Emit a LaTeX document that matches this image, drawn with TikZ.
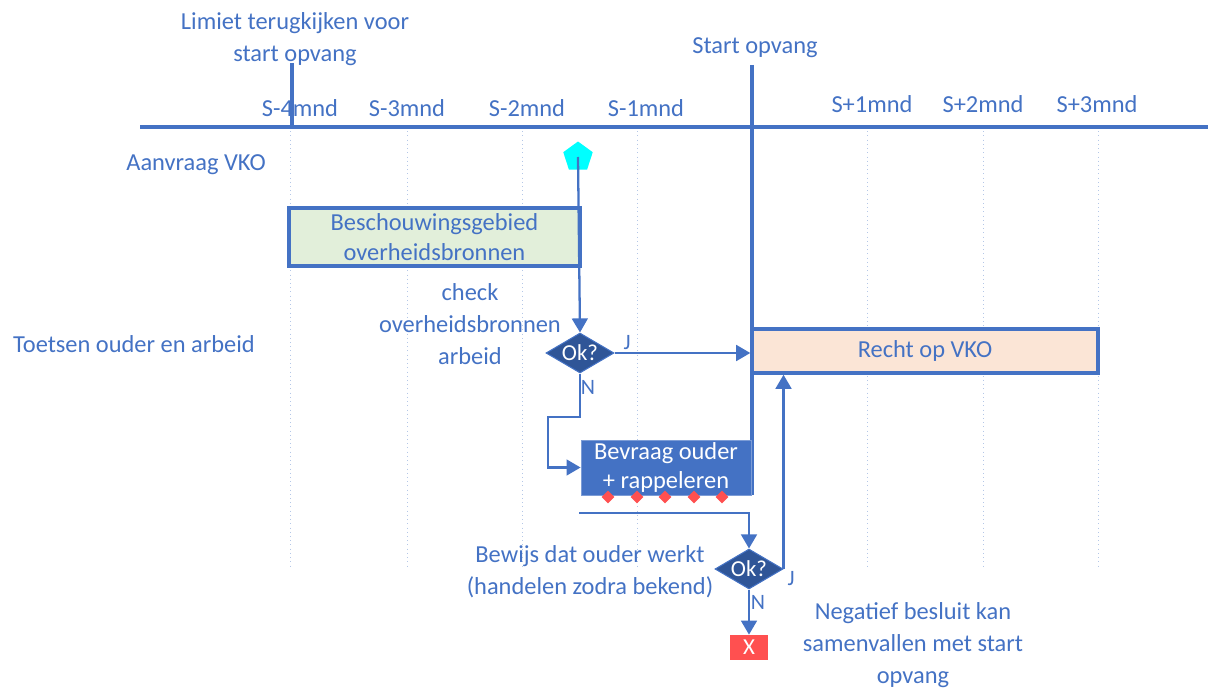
\documentclass[tikz,border=0pt]{standalone}
\usepackage{fontspec}
\setmainfont{Carlito}
\usepackage{xcolor}
\usepackage{tikz}
\usetikzlibrary{shapes.geometric,arrows.meta,positioning}

\definecolor{lineblue}{HTML}{4472C4}
\definecolor{darkblue}{HTML}{2F5597}
\definecolor{greenfill}{HTML}{E2EFDA}
\definecolor{orangefill}{HTML}{FBE5D6}
\definecolor{redx}{HTML}{FF5050}
\definecolor{aqua}{HTML}{00FFFF}

\begin{document}
\begin{tikzpicture}[
        x=0.02cm, y=-0.02cm,
        lbl/.style={text=lineblue, font=\fontsize{13.9}{18.1}\selectfont, align=center, inner sep=0pt},
        yn/.style={text=lineblue, font=\fontsize{12.5}{15}\selectfont, inner sep=0pt},
        phase/.style={rectangle, draw=lineblue, line width=2pt, text=lineblue, font=\fontsize{13.9}{17}\selectfont, align=center, inner sep=0pt},
        okbox/.style={diamond, fill=darkblue, draw=lineblue, line width=0.6pt, minimum width=1.36cm, minimum height=0.8cm, inner sep=0pt},
        oktext/.style={text=white, font=\fontsize{13}{15}\selectfont},
        rdot/.style={diamond, fill=redx, minimum size=0.26cm, inner sep=0pt},
        flow/.style={draw=lineblue, line width=1.3pt, -{Triangle[width=9pt,length=8pt]}},
        ]

        \useasboundingbox (0,0) rectangle (1208,689);

        % Time axis and month grid
        \foreach \gx in {290,407,522,637,867,983,1098}
            \draw[lineblue!40, line width=0.4pt, dotted] (\gx,127) -- (\gx,567);
        \draw[lineblue, line width=2pt] (140,127) -- (1208,127);
        \draw[lineblue, line width=2pt] (292,63) -- (292,127);
        \draw[lineblue, line width=2pt] (752,65) -- (752,495);

        \node[lbl] (limiet) at (295,39) {Limiet terugkijken voor\\start opvang};
        \node[lbl] (start) at (755,48) {Start opvang};

        \node[lbl] (sm4) at (300,108) {S-4mnd};
        \node[lbl] (sm3) at (407,108) {S-3mnd};
        \node[lbl] (sm2) at (527,108) {S-2mnd};
        \node[lbl] (sm1) at (646,108) {S-1mnd};
        \node[lbl] (sp1) at (872,104) {S+1mnd};
        \node[lbl] (sp2) at (983,104) {S+2mnd};
        \node[lbl] (sp3) at (1097,104) {S+3mnd};

        % Row labels
        \node[lbl] (aanvraag) at (196,165) {Aanvraag VKO};
        \node[lbl] (toetsen) at (134,344) {Toetsen ouder en arbeid};

        % Boxes
        \node[regular polygon, regular polygon sides=5, fill=aqua, minimum size=0.62cm, inner sep=0pt] (pent) at (578,157) {};
        \node[phase, fill=greenfill, minimum width=5.82cm, minimum height=1.16cm] (gebied) at (434.5,237) {Beschouwingsgebied\\overheidsbronnen};
        \node[lbl] (check) at (470,324) {check\\overheidsbronnen\\arbeid};
        \node[okbox, label={[oktext]center:Ok?}] (d1) at (580,353) {};
        \node[phase, fill=orangefill, minimum width=6.92cm, minimum height=0.88cm] (recht) at (925,351) {Recht op VKO};
        \node[rectangle, fill=lineblue, draw=lineblue!70!white, line width=0.5pt, text=white, font=\fontsize{13.9}{17}\selectfont, align=center, minimum width=3.4cm, minimum height=1.1cm, inner sep=0pt] (bevraag) at (666,467.5) {Bevraag ouder\\+ rappeleren};
        \foreach \rx [count=\i] in {608,637,665,694,722}
            \node[rdot] (r\i) at (\rx,497) {};
        \node[lbl] (bewijs) at (590,572) {Bewijs dat ouder werkt\\(handelen zodra bekend)};
        \node[okbox, label={[oktext]center:Ok?}] (d2) at (749,569) {};
        \node[rectangle, fill=redx, text=white, font=\fontsize{13}{15}\selectfont, minimum width=0.76cm, minimum height=0.5cm, inner sep=0pt] (xbox) at (749,647.5) {X};
        \node[lbl] (negatief) at (913,645) {Negatief besluit kan\\samenvallen met start\\opvang};

        % Yes / no labels
        \node[yn] (j1) at (627,343) {J};
        \node[yn] (n1) at (588,387) {N};
        \node[yn] (j2) at (791,579) {J};
        \node[yn] (n2) at (758,602) {N};

        \coordinate (nbend) at (548,417);
        \coordinate (wait) at (579,513);

        % Flow
        \draw[flow] (pent.center) -- (d1.north);
        \draw[flow] (d1.east) -- (d1.east -| recht.west);
        \draw[flow] (d1.south) |- (nbend) |- (bevraag.west);
        \draw[flow] (wait) -| (d2.north);
        \draw[flow] (d2.east) -- (d2.east |- recht.south);
        \draw[flow] (d2.south) -- (xbox.north);

    \end{tikzpicture}
\end{document}
